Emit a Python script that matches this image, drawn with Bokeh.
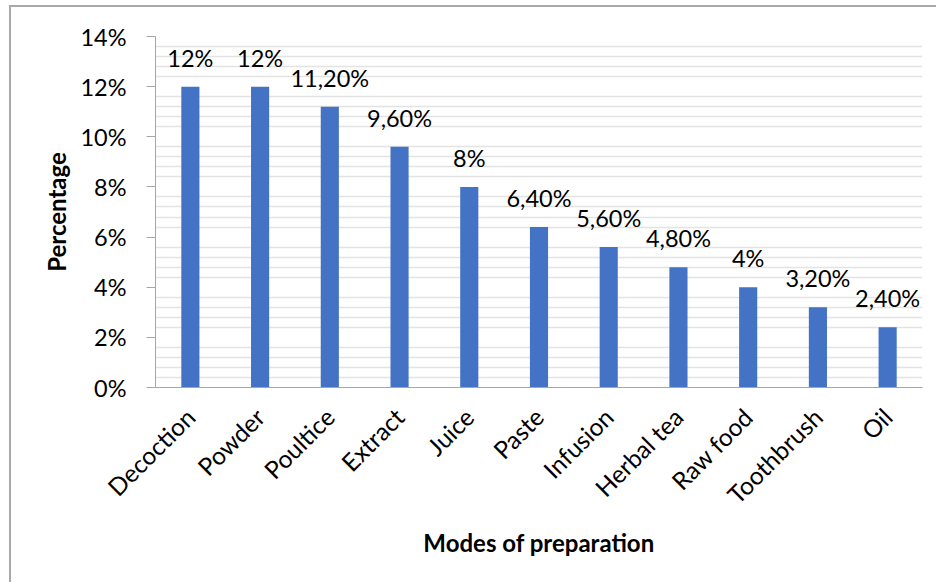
from bokeh.plotting import figure
from bokeh.models import ColumnDataSource, FactorRange, Range1d, FixedTicker, PrintfTickFormatter
from bokeh.core.properties import value
from bokeh.embed import file_html
from bokeh.resources import INLINE
import math

# Modes of preparation and their share of citations (%)
modes = ["Decoction", "Powder", "Poultice", "Extract", "Juice", "Paste",
         "Infusion", "Herbal tea", "Raw food", "Toothbrush", "Oil"]
percent = [12, 12, 11.2, 9.6, 8, 6.4, 5.6, 4.8, 4, 3.2, 2.4]
value_labels = ["12%", "12%", "11,20%", "9,60%", "8%", "6,40%",
                "5,60%", "4,80%", "4%", "3,20%", "2,40%"]
y_major = [0, 2, 4, 6, 8, 10, 12, 14]

FONT = "Lato"
BAR = "#4472C4"
AXIS_GREY = "#a6a6a6"
TXT = "23.5px"
CAT = "24.5px"
TITLE = "24px"

src = ColumnDataSource(dict(mode=modes, pct=percent, lab=value_labels))

p = figure(
    x_range=FactorRange(factors=modes),
    y_range=Range1d(0, 14),
    width=927, height=577,
    output_backend="svg", toolbar_location=None,
    min_border_left=144, min_border_right=16,
    min_border_top=29, min_border_bottom=197,
)
p.styles = {
    "margin-left": "9px", "margin-top": "5px",
    "border-left": "2px solid #a9a9a9", "border-top": "2px solid #a9a9a9",
}
p.outline_line_color = None
p.background_fill_color = "white"
p.border_fill_color = "white"

# bars
p.vbar(x="mode", top="pct", width=0.26, source=src, fill_color=BAR, line_color=None)

# value labels above each bar
p.text(x="mode", y="pct", text="lab", source=src,
       text_align="center", text_baseline="alphabetic", y_offset=-29,
       text_font=value(FONT), text_font_size=TXT, text_color="black")

# y axis: percent ticks every 2, fine gridlines every 0.4
minor = [round(i * 0.4, 1) for i in range(0, 36) if round(i * 0.4, 1) not in y_major]
p.yaxis.ticker = FixedTicker(ticks=y_major, minor_ticks=minor)
p.yaxis.formatter = PrintfTickFormatter(format="%d%%")
p.ygrid.grid_line_color = None
p.ygrid.minor_grid_line_color = "#e3e3e3"
p.ygrid.minor_grid_line_width = 1.3
p.xgrid.grid_line_color = None

p.yaxis.axis_line_color = AXIS_GREY
p.yaxis.major_tick_line_color = AXIS_GREY
p.yaxis.major_tick_out = 9
p.yaxis.major_tick_in = 0
p.yaxis.minor_tick_line_color = None
p.yaxis.major_label_standoff = 20
p.yaxis.major_label_text_font = FONT
p.yaxis.major_label_text_font_size = TXT
p.yaxis.major_label_text_color = "black"
p.yaxis.axis_label = "Percentage"
p.yaxis.axis_label_text_font = FONT
p.yaxis.axis_label_text_font_style = "bold"
p.yaxis.axis_label_text_font_size = TITLE
p.yaxis.axis_label_text_color = "black"
p.yaxis.axis_label_standoff = 6

p.xaxis.axis_line_color = AXIS_GREY
p.xaxis.major_tick_line_color = None
p.xaxis.minor_tick_line_color = None
p.xaxis.major_label_orientation = math.pi / 4
p.xaxis.major_label_standoff = 19
p.xaxis.major_label_text_font = FONT
p.xaxis.major_label_text_font_size = CAT
p.xaxis.major_label_text_color = "black"
p.xaxis.axis_label = "Modes of preparation"
p.xaxis.axis_label_text_font = FONT
p.xaxis.axis_label_text_font_style = "bold"
p.xaxis.axis_label_text_font_size = TITLE
p.xaxis.axis_label_text_color = "black"
p.xaxis.axis_label_standoff = 6

open("out.html", "w").write(file_html(p, INLINE))
